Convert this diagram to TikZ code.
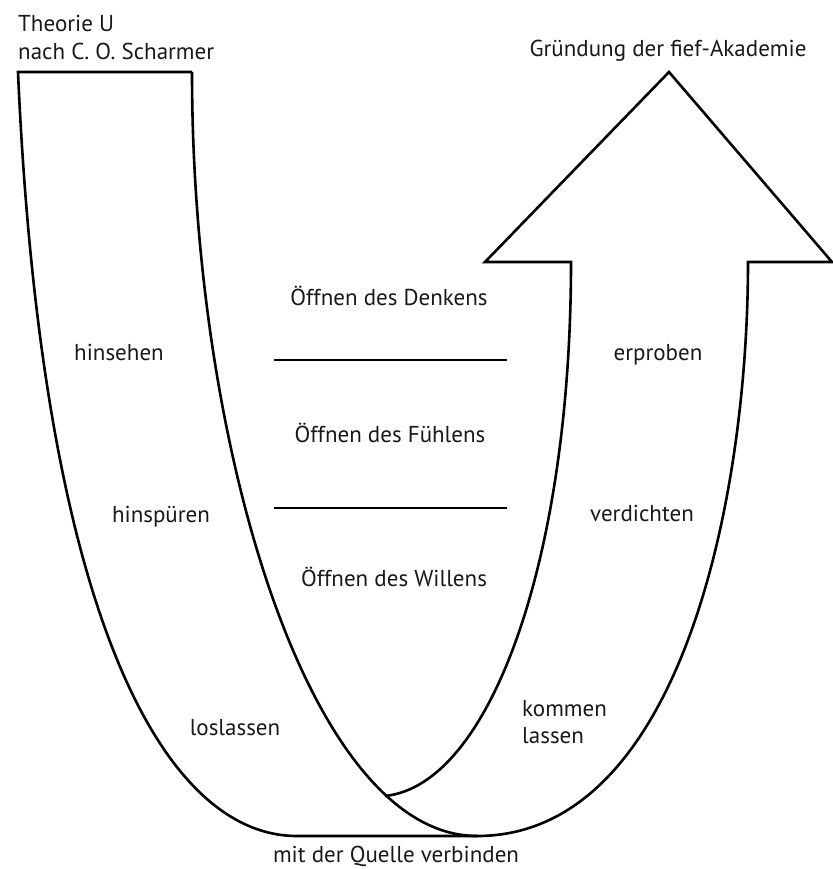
\documentclass[tikz,border=0pt]{standalone}
\usepackage{fontspec}
\setmainfont{PT Sans}
\begin{document}
\begin{tikzpicture}[x=1pt,y=-1pt,
  outline/.style={line width=2.6pt,line join=miter,black},
  sep/.style={line width=2.8pt},
  lbl/.style={inner sep=0pt,font=\fontsize{23}{28}\selectfont,text=black!90}]
\useasboundingbox (0,0) rectangle (832,869);
% coordinates
\coordinate (tl) at (18,72);
\coordinate (tr) at (192,72);
\coordinate (bl) at (297,836);
\coordinate (br) at (477,836);
\coordinate (meet) at (385,796);
\coordinate (sl) at (571,262);
\coordinate (hl) at (485,262);
\coordinate (tip) at (669,72);
\coordinate (hr) at (832,262);
\coordinate (sr) at (748,262);
% left branch
\draw[outline] (tr) -- (tl) .. controls (42,620) and (165,836) .. (bl) -- (br);
\draw[outline] (tr) .. controls (192,450) and (310,836) .. (br);
% right arrow
\draw[outline] (meet) .. controls (490,785) and (571,560) .. (sl) -- (hl) -- (tip) -- (hr) -- (sr)
   .. controls (748,500) and (680,836) .. (br);
% separators
\coordinate (s1a) at (274,360); \coordinate (s1b) at (507,360);
\coordinate (s2a) at (274,508); \coordinate (s2b) at (507,508);
\draw[sep] (s1a) -- (s1b);
\draw[sep] (s2a) -- (s2b);
% labels
\node[lbl,anchor=base west] (t1) at (18,32) {Theorie U};
\node[lbl,anchor=base west] (t2) at (18,60) {nach C. O. Scharmer};
\node[lbl,anchor=base] (grund) at (668,57) {Gründung der fief-Akademie};
\node[lbl,anchor=base] (denk) at (389,305) {Öffnen des Denkens};
\node[lbl,anchor=base] (fuehl) at (390,442) {Öffnen des Fühlens};
\node[lbl,anchor=base] (will) at (394,586) {Öffnen des Willens};
\node[lbl,anchor=base] (hinsehen) at (119,360) {hinsehen};
\node[lbl,anchor=base] (hinspueren) at (161,522) {hinspüren};
\node[lbl,anchor=base] (loslassen) at (235,735) {loslassen};
\node[lbl,anchor=base] (erproben) at (658,360) {erproben};
\node[lbl,anchor=base] (verdichten) at (642,521) {verdichten};
\node[lbl,anchor=base west] (kommen) at (522,716) {kommen};
\node[lbl,anchor=base west] (lassen) at (522,743) {lassen};
\node[lbl,anchor=base] (quelle) at (396,862) {mit der Quelle verbinden};
\end{tikzpicture}
\end{document}
